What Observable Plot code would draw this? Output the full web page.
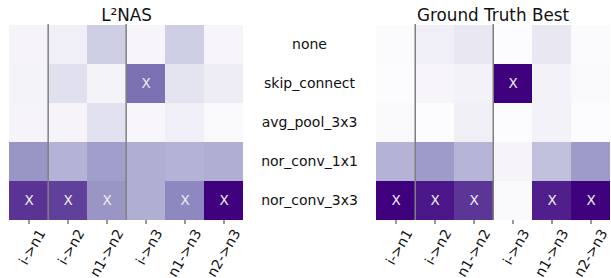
<!DOCTYPE html>
<html>
<head>
<meta charset="utf-8">
<script src="https://cdn.jsdelivr.net/npm/d3@7"></script>
<script src="https://cdn.jsdelivr.net/npm/@observablehq/plot@0.6"></script>
<style>
  html, body { margin: 0; padding: 0; background: #fff; }
  #wrap { position: relative; width: 611px; height: 278px; overflow: hidden; font-family: "DejaVu Sans", sans-serif; }
  #wrap > div { position: absolute; top: 0; }
  svg { overflow: visible; }
</style>
</head>
<body>
<div id="wrap"><div id="left" style="left:0"></div><div id="right" style="left:245px"></div></div>
<script>
const cols = ["i->n1", "i->n2", "n1->n2", "i->n3", "n1->n3", "n2->n3"];
const ops = ["none", "skip_connect", "avg_pool_3x3", "nor_conv_1x1", "nor_conv_3x3"];
const titles = ["L²NAS", "Ground Truth Best"];

// rows follow ops, columns follow cols
const l2nasValues = [
  [0.06, 0.11, 0.30, 0.05, 0.30, 0.05],
  [0.07, 0.21, 0.07, 0.66, 0.19, 0.12],
  [0.06, 0.06, 0.20, 0.04, 0.11, 0.03],
  [0.52, 0.41, 0.49, 0.43, 0.41, 0.43],
  [0.84, 0.80, 0.52, 0.43, 0.57, 1.00]
];
const gtValues = [
  [0.01, 0.11, 0.16, 0.00, 0.16, 0.01],
  [0.00, 0.05, 0.08, 1.00, 0.08, 0.03],
  [0.03, 0.00, 0.10, 0.00, 0.08, 0.00],
  [0.41, 0.50, 0.40, 0.06, 0.36, 0.50],
  [1.00, 0.93, 0.83, 0.02, 0.90, 1.00]
];
// chosen operation per edge (marked with X)
const l2nasChoice = ["nor_conv_3x3", "nor_conv_3x3", "nor_conv_3x3", "skip_connect", "nor_conv_3x3", "nor_conv_3x3"];
const gtChoice = ["nor_conv_3x3", "nor_conv_3x3", "nor_conv_3x3", "skip_connect", "nor_conv_3x3", "nor_conv_3x3"];
// first edge of each new node group (separator lines)
const groupStarts = ["i->n2", "i->n3"];

function toTable(values) {
  const out = [];
  ops.forEach((op, i) => cols.forEach((c, j) => out.push({op, col: c, v: values[i][j]})));
  return out;
}
function choiceTable(choice) {
  return cols.map((c, j) => ({col: c, op: choice[j]}));
}

function panel({values, choice, title, width, marginLeft, showRows}) {
  const frameW = width - marginLeft;
  const bw = frameW / cols.length;
  const marks = [
    Plot.cell(toTable(values), {x: "col", y: "op", fill: "v", inset: 0}),
    Plot.text(choiceTable(choice), {x: "col", y: "op", text: () => "X", fill: "#eeeeee", fontSize: 13.5}),
    Plot.ruleX(groupStarts, {x: d => d, dx: -bw / 2, stroke: "#808080", strokeWidth: 1.5}),
    Plot.axisX({tickSize: 4, text: null, stroke: "#333", label: null}),
    Plot.axisX({tickSize: 0, tickRotate: -60, tickPadding: 0, dx: 13, dy: 10, fontSize: 14, fill: "#111", label: null}),
    Plot.text([title], {frameAnchor: "top", dy: -15, fontSize: 16.8, fill: "#111"})
  ];
  if (showRows) {
    marks.push(Plot.axisY({tickSize: 0, tickPadding: 0, textAnchor: "middle", dx: -65, fontSize: 14, fill: "#111", label: null}));
  }
  return Plot.plot({
    width, height: 278,
    marginLeft, marginRight: 0, marginTop: 24, marginBottom: 58,
    x: {domain: cols, padding: 0, label: null},
    y: {domain: ops, padding: 0, label: null, axis: null},
    color: {type: "linear", scheme: "purples", domain: [0, 1]},
    style: {fontFamily: "DejaVu Sans", background: "transparent", overflow: "visible"},
    marks
  });
}

document.getElementById("left").append(panel({values: l2nasValues, choice: l2nasChoice, title: titles[0], width: 245, marginLeft: 7, showRows: false}));
document.getElementById("right").append(panel({values: gtValues, choice: gtChoice, title: titles[1], width: 366, marginLeft: 129, showRows: true}));
</script>
</body>
</html>
